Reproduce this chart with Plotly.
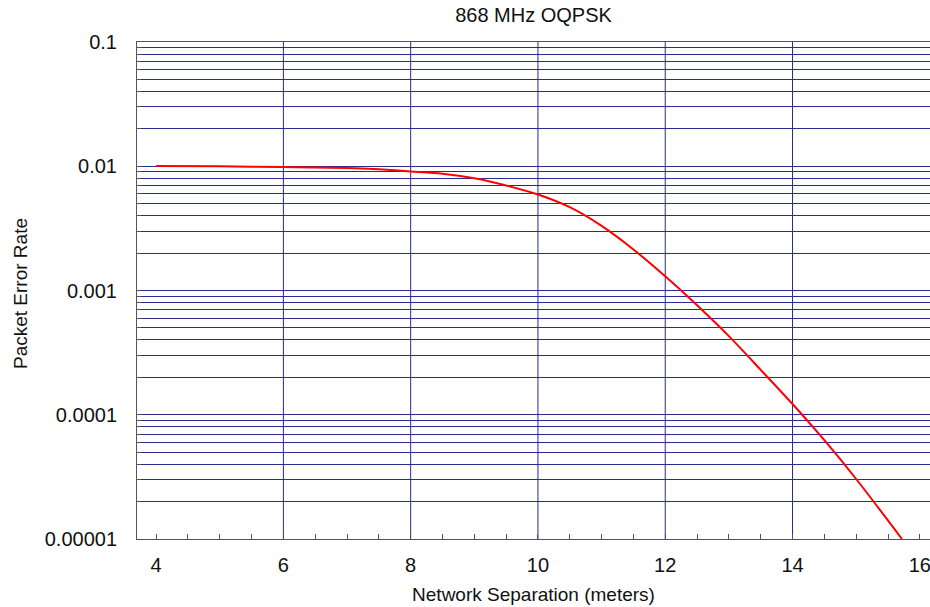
import plotly.graph_objects as go

# Data
separation_m = [4, 5, 6, 7, 7.5, 8, 8.5, 9, 9.5, 10, 10.5, 11, 11.5, 12, 12.5,
                13, 13.5, 14, 14.5, 15, 15.72]
packet_error_rate = [0.01005, 0.00998, 0.00986, 0.00968, 0.00944, 0.00908,
                     0.00871, 0.00800, 0.00700, 0.00592, 0.00468, 0.00331,
                     0.00214, 0.00130, 0.000760, 0.000429, 0.000230,
                     0.000122, 0.0000624, 0.0000304, 0.00001]

x_tick_vals = [4, 6, 8, 10, 12, 14, 16]
x_grid_vals = [6, 8, 10, 12, 14]
y_tick_vals = [0.1, 0.01, 0.001, 0.0001, 0.00001]
y_tick_text = ["0.1", "0.01", "0.001", "0.0001", "0.00001"]

title_text = "868 MHz OQPSK"
x_title = "Network Separation (meters)"
y_title = "Packet Error Rate"

FONT = "Arial, Liberation Sans, sans-serif"
GRID = "#2a2a90"
AXIS = "#555555"
TXT = "#111111"

fig = go.Figure()
fig.add_trace(go.Scatter(
    x=separation_m, y=packet_error_rate, mode="lines",
    line=dict(color="#ff0000", width=2, shape="spline", smoothing=0.8),
    showlegend=False, hoverinfo="x+y"))

for xv in x_grid_vals:
    fig.add_vline(x=xv, line=dict(color=GRID, width=1), layer="below")

fig.update_layout(
    width=930, height=607,
    margin=dict(l=137, r=0, t=42, b=68, autoexpand=False),
    paper_bgcolor="white", plot_bgcolor="white",
    font=dict(family=FONT, size=20, color=TXT),
    showlegend=False,
    title=dict(text=title_text, x=0.5, xref="paper", xanchor="center",
               y=1 - 15 / 607, yref="container", yanchor="middle",
               font=dict(family=FONT, size=20, color=TXT)),
    xaxis=dict(range=[3.70, 16.16], tickvals=x_tick_vals,
               showgrid=False, zeroline=False,
               showline=True, linecolor=AXIS, linewidth=1, mirror=True,
               ticks="inside", ticklen=5, tickcolor=AXIS,
               ticklabelstandoff=8, ticklabeloverflow="allow",
               minor=dict(dtick=0.5, ticks="inside", ticklen=5,
                          tickcolor=AXIS, showgrid=False),
               tickfont=dict(family=FONT, size=20, color=TXT),
               title=dict(text=x_title, standoff=12,
                          font=dict(family=FONT, size=19, color=TXT))),
    yaxis=dict(type="log", range=[-5, -1], tickvals=y_tick_vals,
               ticktext=y_tick_text,
               showgrid=True, gridcolor=GRID, gridwidth=1, zeroline=False,
               showline=True, linecolor=AXIS, linewidth=1,
               ticks="inside", ticklen=4, tickcolor=AXIS,
               ticklabelstandoff=15, ticklabeloverflow="allow",
               minor=dict(dtick="D1", ticks="inside", ticklen=4,
                          tickcolor=AXIS, showgrid=True, gridcolor=GRID,
                          gridwidth=1),
               tickfont=dict(family=FONT, size=20, color=TXT)),
    annotations=[
        dict(text=y_title, xref="paper", yref="paper",
             x=(20 - 137) / 793, y=(539 - 294) / 497,
             xanchor="center", yanchor="middle", showarrow=False,
             textangle=-90,
             font=dict(family=FONT, size=19, color=TXT)),
    ],
)

fig.write_html("out.html",
               config={"displayModeBar": False},
               post_script="document.body.style.margin='0';"
                           "document.body.style.overflow='hidden';")
